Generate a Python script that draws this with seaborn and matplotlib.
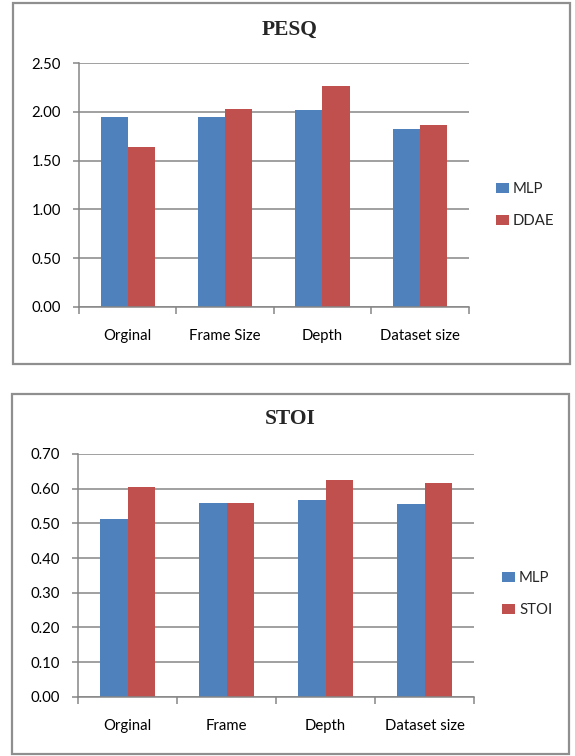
import matplotlib
matplotlib.use("Agg")
import matplotlib.pyplot as plt
from matplotlib.patches import Rectangle
from matplotlib.ticker import FixedLocator, FormatStrFormatter
import seaborn as sns
import pandas as pd

# ---- data ----
pesq_categories = ["Orginal", "Frame Size", "Depth", "Dataset size"]
pesq_mlp = [1.95, 1.95, 2.02, 1.83]
pesq_ddae = [1.64, 2.03, 2.27, 1.87]
pesq_series = ["MLP", "DDAE"]

stoi_categories = ["Orginal", "Frame", "Depth", "Dataset size"]
stoi_mlp = [0.512, 0.559, 0.566, 0.556]
stoi_stoi = [0.606, 0.559, 0.624, 0.616]
stoi_series = ["MLP", "STOI"]

pesq_ticks = [0.0, 0.5, 1.0, 1.5, 2.0, 2.5]
stoi_ticks = [0.0, 0.1, 0.2, 0.3, 0.4, 0.5, 0.6, 0.7]

BLUE = "#4F81BD"
RED = "#C0504D"
GRID = "#868686"
FRAME = "#8f8f8f"

sns.set_theme(style="white")
plt.rcParams["font.family"] = ["Lato", "DejaVu Sans"]

W, H = 575, 756
fig = plt.figure(figsize=(W / 100, H / 100), dpi=100)


def px_box(x0, y0, x1, y1):
    """Convert a pixel box (top-left origin) to figure fractions."""
    return [x0 / W, 1 - y1 / H, (x1 - x0) / W, (y1 - y0) / H]


def long_frame(categories, series, a, b):
    rows = []
    for c, va, vb in zip(categories, a, b):
        rows.append((c, series[0], va))
        rows.append((c, series[1], vb))
    return pd.DataFrame(rows, columns=["category", "series", "value"])


def draw_panel(box, frame_box, title, title_y, categories, series, a, b,
               ticks, legend_y, legend_x):
    # panel border
    fig.patches.append(Rectangle((frame_box[0] / W, 1 - frame_box[3] / H),
                                 (frame_box[2] - frame_box[0]) / W,
                                 (frame_box[3] - frame_box[1]) / H,
                                 transform=fig.transFigure, fill=False,
                                 edgecolor=FRAME, linewidth=1.6))
    ax = fig.add_axes(px_box(*box))
    df = long_frame(categories, series, a, b)
    sns.barplot(data=df, x="category", y="value", hue="series",
                palette=[BLUE, RED], width=0.556, saturation=1,
                linewidth=0, ax=ax, order=categories, hue_order=series)
    ax.set_xlim(-0.5, len(categories) - 0.5)
    ax.set_ylim(ticks[0], ticks[-1])
    ax.set_xlabel("")
    ax.set_ylabel("")
    ax.yaxis.set_major_locator(FixedLocator(ticks))
    ax.yaxis.set_major_formatter(FormatStrFormatter("%.2f"))
    ax.set_axisbelow(True)
    ax.grid(axis="y", color=GRID, linewidth=1.1)
    ax.grid(axis="x", visible=False)
    for s in ("top", "right"):
        ax.spines[s].set_visible(False)
    for s in ("left", "bottom"):
        ax.spines[s].set_color(GRID)
        ax.spines[s].set_linewidth(1.1)
    ax.tick_params(axis="y", which="major", length=4, width=1.1,
                   color=GRID, pad=9, labelsize=10.7, labelcolor="black",
                   left=True)
    ax.xaxis.set_minor_locator(FixedLocator(
        [i - 0.5 for i in range(len(categories) + 1)]))
    ax.tick_params(axis="x", which="minor", length=5, width=1.1,
                   color=GRID, bottom=True, direction="out")
    ax.tick_params(axis="x", which="major", length=0, pad=16,
                   labelsize=10.7, labelcolor="black")
    handles, labels = ax.get_legend_handles_labels()
    ax.get_legend().remove()
    fig.legend(handles, labels, loc="center left",
               bbox_to_anchor=(legend_x / W, 1 - legend_y / H),
               bbox_transform=fig.transFigure, frameon=False,
               fontsize=10.7, handlelength=0.9, handleheight=0.7,
               handletextpad=0.25, labelspacing=1.2, borderpad=0,
               borderaxespad=0)
    fig.text(290 / W, 1 - title_y / H, title, ha="center", va="center",
             fontsize=15.5, fontweight="bold",
             family=["Liberation Serif", "DejaVu Serif"])
    return ax


draw_panel((79, 63.3, 468.5, 306.7), (12.5, 3.5, 570, 364), "PESQ", 30,
           pesq_categories, pesq_series, pesq_mlp, pesq_ddae, pesq_ticks,
           205.3, 496)
draw_panel((78, 454, 474, 696.7), (11.5, 393.5, 568.5, 754), "STOI", 419,
           stoi_categories, stoi_series, stoi_mlp, stoi_stoi, stoi_ticks,
           594.3, 502)

fig.savefig("out.png", dpi=100)
